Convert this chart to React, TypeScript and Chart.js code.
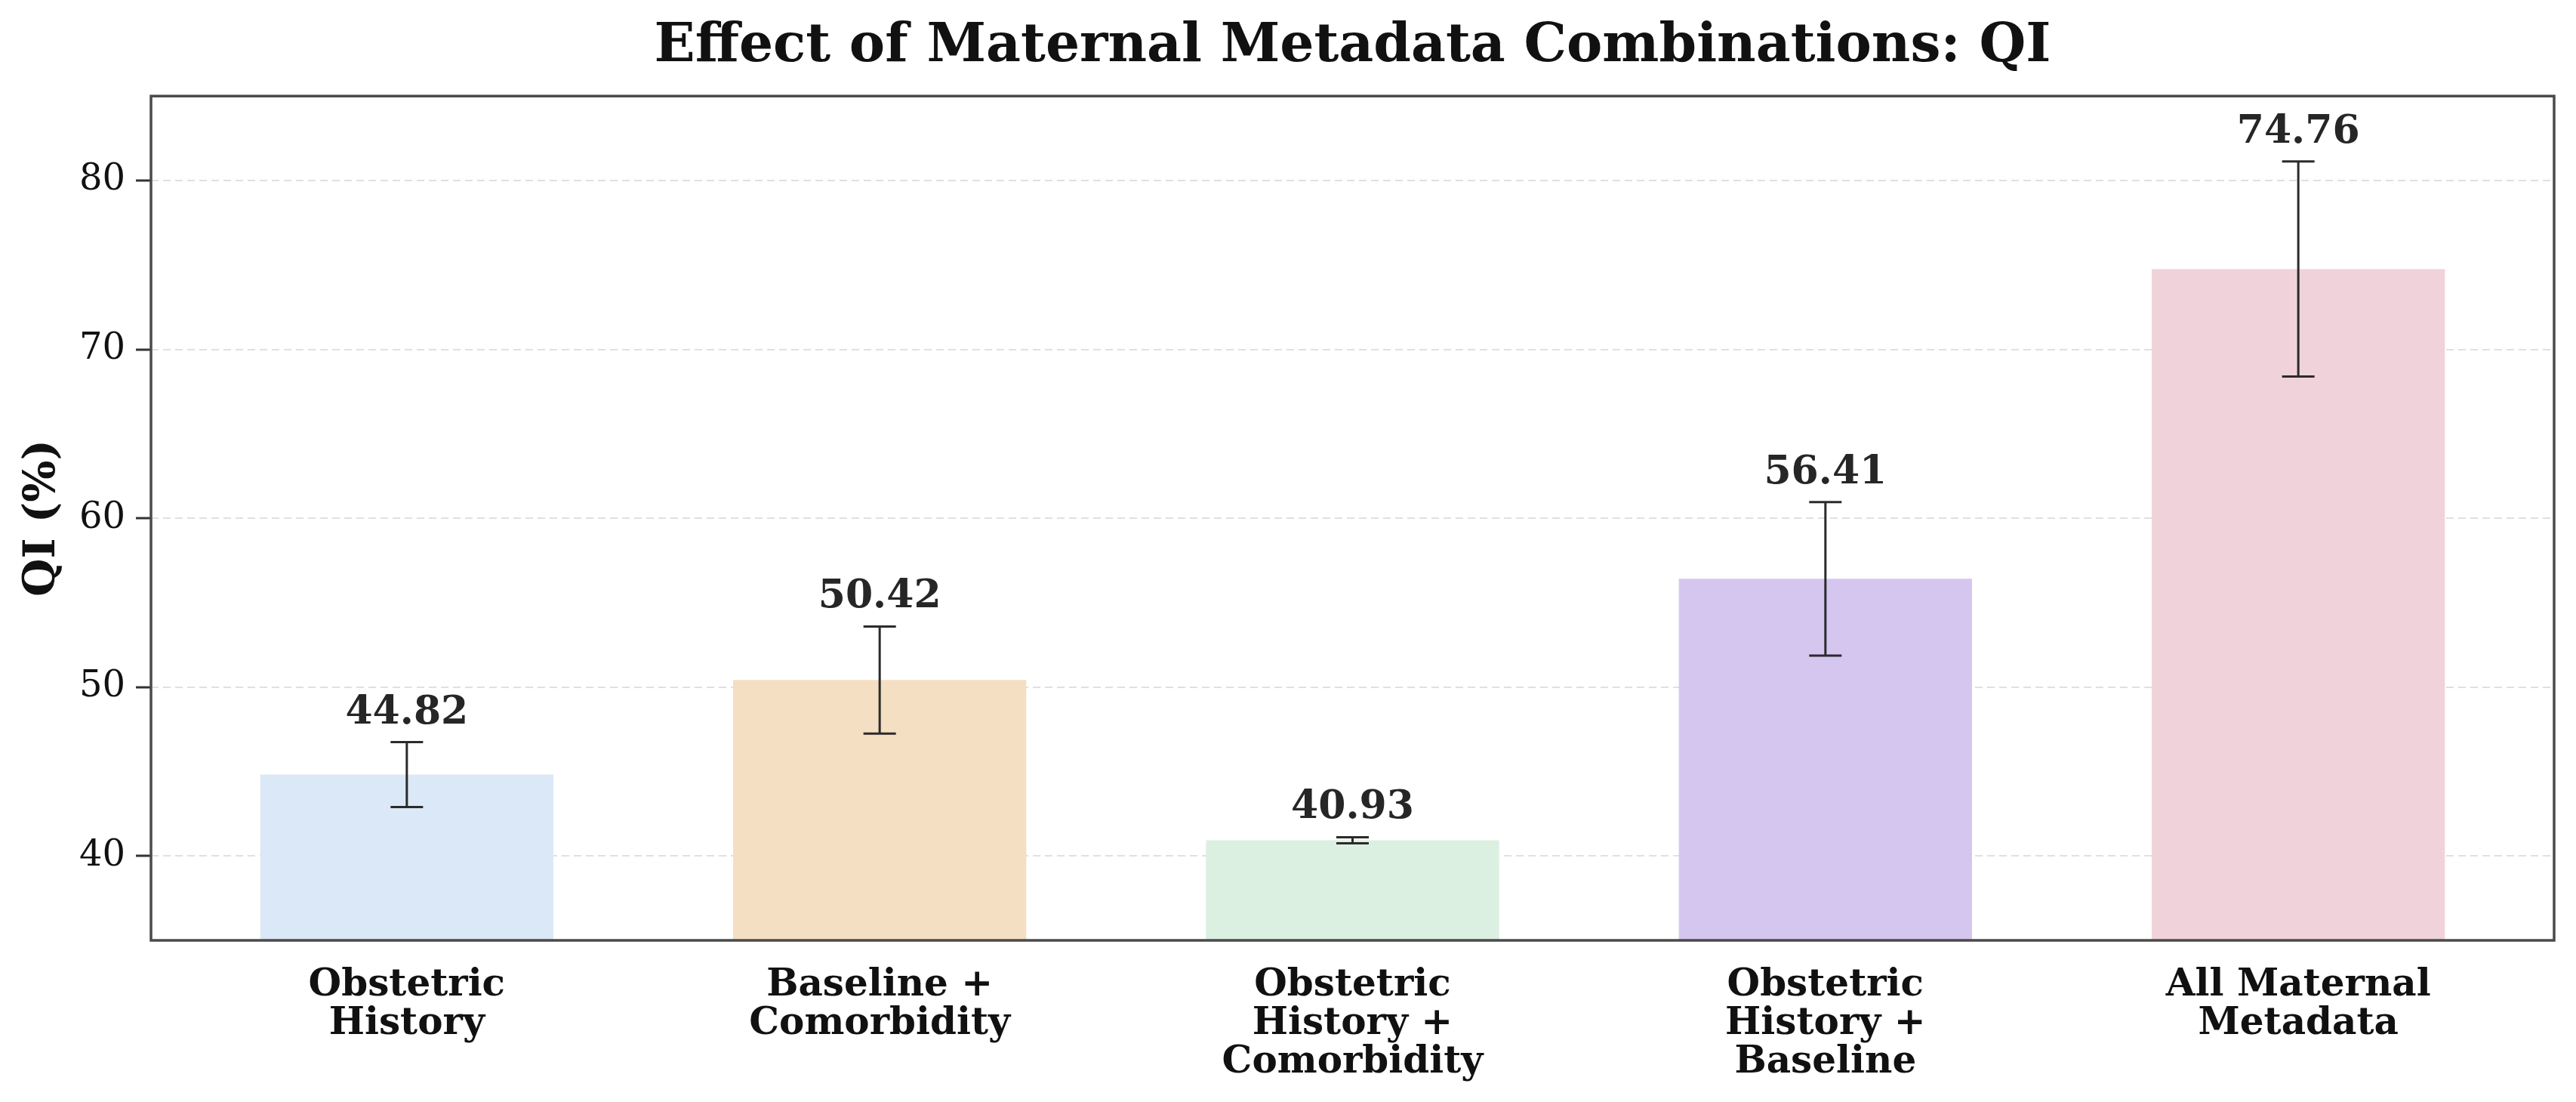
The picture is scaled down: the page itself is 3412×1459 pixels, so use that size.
import React, { useEffect, useRef } from "react";
import { Chart, registerables } from "chart.js";

Chart.register(...registerables);

const categories: string[][] = [
  ["Obstetric", "History"],
  ["Baseline +", "Comorbidity"],
  ["Obstetric", "History +", "Comorbidity"],
  ["Obstetric", "History +", "Baseline"],
  ["All Maternal", "Metadata"],
];
const qiValues = [44.82, 50.42, 40.93, 56.41, 74.76];
const qiErrors = [1.92, 3.17, 0.18, 4.55, 6.37];
const barColors = ["#dbe8f7", "#f4dfc3", "#dcf0e2", "#d5c6f0", "#f0d3da"];
const yTicks = [40, 50, 60, 70, 80];
const titleText = "Effect of Maternal Metadata Combinations: QI";
const yLabel = "QI (%)";

const W = 3412;
const H = 1459;
const FONT = "'DejaVu Serif', serif";

const overlayPlugin = {
  id: "overlay",
  afterDatasetsDraw(chart: any) {
    const { ctx, chartArea } = chart;
    const xs = chart.scales.x;
    const ys = chart.scales.y;
    ctx.save();
    // frame (spines)
    ctx.strokeStyle = "#4a4a4a";
    ctx.lineWidth = 3.5;
    ctx.setLineDash([]);
    ctx.strokeRect(chartArea.left, chartArea.top, chartArea.right - chartArea.left, chartArea.bottom - chartArea.top);
    // error bars and value labels
    for (let i = 0; i < qiValues.length; i++) {
      const x = xs.getPixelForValue(i);
      const yT = ys.getPixelForValue(qiValues[i] + qiErrors[i]);
      const yB = ys.getPixelForValue(qiValues[i] - qiErrors[i]);
      ctx.strokeStyle = "#2b2b2b";
      ctx.lineWidth = 3;
      ctx.beginPath();
      ctx.moveTo(x, yT);
      ctx.lineTo(x, yB);
      ctx.moveTo(x - 21.5, yT);
      ctx.lineTo(x + 21.5, yT);
      ctx.moveTo(x - 21.5, yB);
      ctx.lineTo(x + 21.5, yB);
      ctx.stroke();
      ctx.fillStyle = "#262626";
      ctx.font = `bold 52px ${FONT}`;
      ctx.textAlign = "center";
      ctx.textBaseline = "alphabetic";
      ctx.fillText(qiValues[i].toFixed(2), x, yT - 25);
    }
    ctx.restore();
  },
};

export default function App() {
  const ref = useRef<HTMLCanvasElement | null>(null);
  useEffect(() => {
    if (!ref.current) return;
    const chart = new Chart(ref.current, {
      type: "bar",
      data: {
        datasets: [
          {
            data: qiValues.map((v, i) => ({ x: i, y: v })),
            backgroundColor: barColors,
            borderWidth: 0,
            barPercentage: 0.62,
            categoryPercentage: 1,
          },
        ],
      },
      options: {
        animation: false,
        responsive: false,
        devicePixelRatio: 1,
        layout: { padding: { left: 0, right: 29, top: 0, bottom: 0 } },
        plugins: {
          legend: { display: false },
          tooltip: { enabled: false },
          title: {
            display: true,
            text: titleText,
            fullSize: false,
            color: "#111111",
            font: { family: FONT, size: 71, weight: "bold", lineHeight: 1.2 },
            padding: { top: 20, bottom: 22 },
          },
        },
        scales: {
          x: {
            type: "linear",
            offset: false,
            min: -0.541,
            max: 4.541,
            afterBuildTicks: (scale: any) => {
              scale.ticks = categories.map((_, i) => ({ value: i }));
            },
            afterFit: (scale: any) => {
              scale.height = H - 1245;
            },
            grid: { display: false, drawTicks: false, offset: false },
            border: { display: false },
            ticks: {
              autoSkip: false,
              maxRotation: 0,
              padding: 35,
              color: "#111111",
              font: { family: FONT, size: 50, weight: "bold", lineHeight: 1.02 },
              callback: (v: any) => categories[Math.round(Number(v))] ?? "",
            },
          },
          y: {
            min: 35,
            max: 85,
            afterBuildTicks: (scale: any) => {
              scale.ticks = yTicks.map((v) => ({ value: v }));
            },
            afterFit: (scale: any) => {
              scale.width = 200;
            },
            grid: {
              color: "rgba(0,0,0,0.12)",
              lineWidth: 2,
              drawTicks: true,
              tickLength: 20,
              tickColor: "#333333",
              tickWidth: 3,
              tickBorderDash: [],
            },
            border: { display: false, dash: [10, 6] },
            title: {
              display: true,
              text: yLabel,
              color: "#111111",
              font: { family: FONT, size: 58, weight: "bold", lineHeight: 1.2 },
              padding: { top: 22, bottom: 0 },
            },
            ticks: {
              padding: 14,
              color: "#111111",
              font: { family: FONT, size: 48 },
            },
          },
        },
      },
      plugins: [overlayPlugin],
    } as any);
    return () => chart.destroy();
  }, []);
  return (
    <div style={{ position: "fixed", left: 0, top: 0, width: W, height: H, background: "#ffffff" }}>
      <canvas ref={ref} width={W} height={H} style={{ width: W, height: H, display: "block" }} />
    </div>
  );
}
